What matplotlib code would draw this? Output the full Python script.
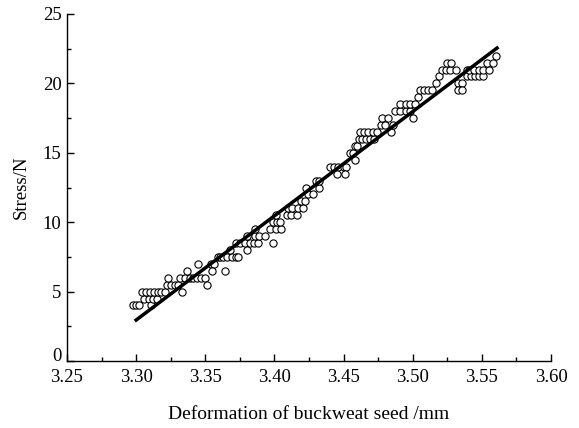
import matplotlib
matplotlib.use("Agg")
import matplotlib.pyplot as plt
import matplotlib.transforms as mtransforms
import numpy as np
from matplotlib.ticker import MultipleLocator

plt.rcParams['font.family'] = ['Liberation Serif', 'DejaVu Serif']

# Measured points: deformation (mm) and stress (N)
deformation = [
    3.298, 3.300, 3.302, 3.306, 3.309, 3.311, 3.312, 3.315,
    3.304, 3.307, 3.310, 3.313, 3.316, 3.318, 3.321,
    3.322, 3.325, 3.328, 3.330, 3.323,
    3.333, 3.332, 3.335, 3.339, 3.337,
    3.345, 3.341, 3.344, 3.347, 3.350,
    3.351, 3.354, 3.356, 3.355, 3.364,
    3.359, 3.361, 3.363, 3.366, 3.369, 3.372, 3.374, 3.368,
    3.372, 3.375, 3.379, 3.380, 3.382, 3.385, 3.388, 3.380,
    3.386, 3.389, 3.393, 3.386, 3.399,
    3.397, 3.401, 3.405, 3.399, 3.402, 3.404,
    3.401, 3.409, 3.412, 3.416,
    3.410, 3.413, 3.417, 3.421, 3.419, 3.422,
    3.424, 3.428, 3.423, 3.432, 3.430, 3.432,
    3.440, 3.443, 3.446, 3.450, 3.452, 3.445, 3.451,
    3.455, 3.457, 3.458, 3.458, 3.460,
    3.461, 3.463, 3.466, 3.469, 3.472,
    3.462, 3.465, 3.468, 3.471, 3.474,
    3.477, 3.480, 3.478, 3.482, 3.484, 3.486,
    3.487, 3.491, 3.495, 3.498, 3.491, 3.495, 3.498, 3.502,
    3.500, 3.504,
    3.505, 3.508, 3.511, 3.514, 3.517, 3.519,
    3.521, 3.524, 3.527, 3.531, 3.525, 3.528,
    3.533, 3.536, 3.533, 3.536, 3.539,
    3.539, 3.542, 3.545, 3.548, 3.551,
    3.541, 3.544, 3.548, 3.551, 3.555,
    3.554, 3.558, 3.560,
]
stress = [
    4.0, 4.0, 4.0, 4.5, 4.5, 4.0, 4.5, 4.5,
    5.0, 5.0, 5.0, 5.0, 5.0, 5.0, 5.0,
    5.5, 5.5, 5.5, 5.5, 6.0,
    5.0, 6.0, 6.0, 6.0, 6.5,
    7.0, 6.0, 6.0, 6.0, 6.0,
    5.5, 7.0, 7.0, 6.5, 6.5,
    7.5, 7.5, 7.5, 7.5, 7.5, 7.5, 7.5, 8.0,
    8.5, 8.5, 8.5, 8.0, 8.5, 8.5, 8.5, 9.0,
    9.0, 9.0, 9.0, 9.5, 8.5,
    9.5, 9.5, 9.5, 10.0, 10.0, 10.0,
    10.5, 10.5, 10.5, 10.5,
    11.0, 11.0, 11.0, 11.0, 11.5, 11.5,
    12.0, 12.0, 12.5, 12.5, 13.0, 13.0,
    14.0, 14.0, 14.0, 14.0, 14.0, 13.5, 13.5,
    15.0, 15.0, 14.5, 15.5, 15.5,
    16.0, 16.0, 16.0, 16.0, 16.0,
    16.5, 16.5, 16.5, 16.5, 16.5,
    17.0, 17.0, 17.5, 17.5, 16.5, 17.0,
    18.0, 18.0, 18.0, 18.0, 18.5, 18.5, 18.5, 18.5,
    17.5, 19.0,
    19.5, 19.5, 19.5, 19.5, 20.0, 20.5,
    21.0, 21.0, 21.0, 21.0, 21.5, 21.5,
    20.0, 20.0, 19.5, 19.5, 21.0,
    20.5, 20.5, 20.5, 20.5, 20.5,
    21.0, 21.0, 21.0, 21.0, 21.0,
    21.5, 21.5, 22.0,
]

# Linear fit line endpoints
fit_x = [3.30, 3.561]
fit_y = [2.95, 22.55]

fig = plt.figure(figsize=(5.79, 4.28), dpi=100)
ax = fig.add_axes([0.1157, 0.1565, 0.8359, 0.8108])

ax.plot(deformation, stress, linestyle='none', marker='o', markersize=5.2,
        markerfacecolor='white', markeredgecolor='black', markeredgewidth=0.8, zorder=2)
ax.plot(fit_x, fit_y, color='black', linewidth=2.5, zorder=3)

ax.set_xlim(3.25, 3.60)
ax.set_ylim(0, 25)
ax.xaxis.set_major_locator(MultipleLocator(0.05))
ax.xaxis.set_minor_locator(MultipleLocator(0.025))
ax.yaxis.set_major_locator(MultipleLocator(5))
ax.yaxis.set_minor_locator(MultipleLocator(2.5))
ax.xaxis.set_major_formatter(matplotlib.ticker.FormatStrFormatter('%.2f'))

for s in ['top', 'right']:
    ax.spines[s].set_visible(False)
for s in ['left', 'bottom']:
    ax.spines[s].set_linewidth(1.0)

ax.tick_params(which='major', direction='in', length=5, width=1.0, labelsize=13.5, pad=6)
ax.tick_params(which='minor', direction='in', length=3, width=1.0)
ax.tick_params(axis='y', pad=4)

ax.set_xlabel('Deformation of buckweat seed /mm', fontsize=14, labelpad=14)
ax.set_ylabel('Stress/N', fontsize=13.5, labelpad=9)

# lift the "0" y tick label slightly, as in the reference
fig.canvas.draw()
ylabels = ax.get_yticklabels()
for lab in ylabels:
    if lab.get_text() == '0':
        lab.set_transform(lab.get_transform() +
                          mtransforms.ScaledTranslation(0, 5 / 72, fig.dpi_scale_trans))

fig.savefig('out.png', dpi=100)
